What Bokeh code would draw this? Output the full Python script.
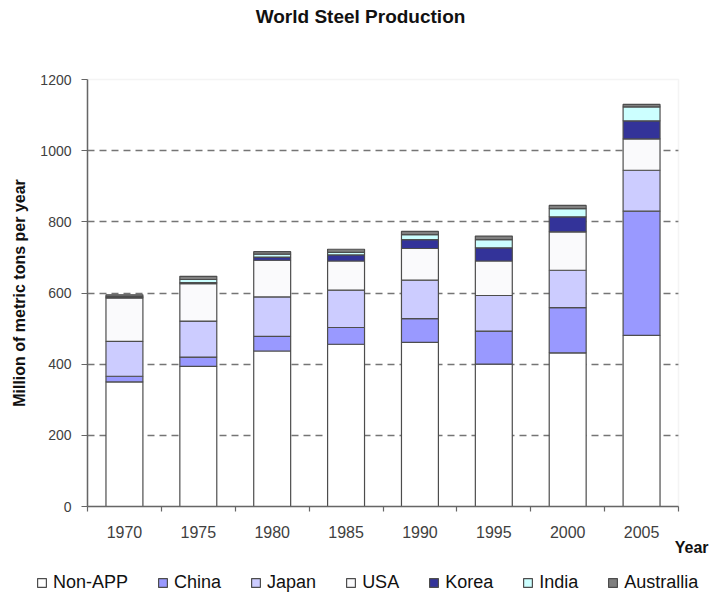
from bokeh.plotting import figure
from bokeh.models import (FixedTicker, Legend, LegendItem, Label, Range1d,
                          ColumnDataSource, BoxAnnotation)
from bokeh.embed import file_html
from bokeh.resources import INLINE

# ---- data (million metric tons per year) ----
years = [1970, 1975, 1980, 1985, 1990, 1995, 2000, 2005]
non_app = [350, 394, 437, 456, 461, 400, 432, 481]
china = [16, 26, 41, 47, 67, 93, 127, 349]
japan = [98, 101, 111, 105, 108, 100, 105, 115]
usa = [122, 105, 103, 82, 89, 97, 108, 88]
korea = [1, 3, 9, 17, 25, 37, 42, 51]
india = [3, 9, 8, 7, 14, 23, 23, 39]
australia = [5, 9, 7, 9, 9, 10, 9, 7]

series_names = ["Non-APP", "China", "Japan", "USA", "Korea", "India", "Australlia"]
series_values = [non_app, china, japan, usa, korea, india, australia]
colors = ["#FFFFFF", "#9999FF", "#CCCCFF", "#FAFAFC", "#333399", "#CCFFFF", "#808080"]
y_ticks = [0, 200, 400, 600, 800, 1000, 1200]

# ---- layout (pixels) ----
FONT = "Liberation Sans"
OUTLINE = "#4d4d4d"
AXIS = "#666666"
W, H = 709, 593
PX_LEFT, PX_RIGHT, PX_TOP, PX_BOTTOM = 87, 678, 79, 506
half = 2.5  # half of the 5-year category width

# plot-area extent in data units, then extend the ranges so the frame fills the canvas
x0, x1 = years[0] - half, years[-1] + half
y0, y1 = y_ticks[0], y_ticks[-1]
xs = (x1 - x0) / (PX_RIGHT - PX_LEFT)
ys = (y1 - y0) / (PX_BOTTOM - PX_TOP)
x_range = Range1d(x0 - PX_LEFT * xs, x1 + (W - PX_RIGHT) * xs)
y_range = Range1d(y0 - (H - PX_BOTTOM) * ys, y1 + PX_TOP * ys)

data = {"year": years}
for name, vals in zip(series_names, series_values):
    data[name] = vals
src = ColumnDataSource(data)

p = figure(width=W, height=H, x_range=x_range, y_range=y_range,
           output_backend="svg", toolbar_location=None, min_border=0)
p.background_fill_color = "white"
p.border_fill_color = "white"
p.outline_line_color = None

# light plot-area border (top / right), under everything
p.add_layout(BoxAnnotation(left=x0, right=x1, bottom=y0, top=y1, fill_alpha=0,
                           line_color="#d9d9d9", line_width=1.5, level="underlay"))

renderers = p.vbar_stack(series_names, x="year", width=half, source=src,
                         fill_color=colors, line_color=OUTLINE, line_width=1.2)

# ---- x axis: labels at category centres, ticks at category boundaries ----
bounds = [y - half for y in years] + [years[-1] + half]
p.xaxis.fixed_location = y0
p.xaxis.bounds = (x0, x1)
p.xaxis.ticker = FixedTicker(ticks=years, minor_ticks=bounds)
p.xaxis.major_tick_out = 0
p.xaxis.major_tick_in = 0
p.xaxis.minor_tick_out = 5
p.xaxis.minor_tick_in = 0
p.xaxis.axis_line_color = AXIS
p.xaxis.axis_line_width = 1.5
p.xaxis.minor_tick_line_color = AXIS
p.xaxis.minor_tick_line_width = 1.2
p.xaxis.major_label_text_font = FONT
p.xaxis.major_label_text_font_size = "16px"
p.xaxis.major_label_text_color = "#404040"
p.xaxis.major_label_standoff = 14

# ---- y axis ----
p.yaxis.fixed_location = x0
p.yaxis.bounds = (y0, y1)
p.yaxis.ticker = FixedTicker(ticks=y_ticks, minor_ticks=[])
p.yaxis.major_tick_out = 6
p.yaxis.major_tick_in = 0
p.yaxis.minor_tick_out = 0
p.yaxis.minor_tick_in = 0
p.yaxis.axis_line_color = AXIS
p.yaxis.axis_line_width = 1.5
p.yaxis.major_tick_line_color = AXIS
p.yaxis.major_tick_line_width = 1.2
p.yaxis.major_label_text_font = FONT
p.yaxis.major_label_text_font_size = "14px"
p.yaxis.major_label_text_color = "#404040"
p.yaxis.major_label_standoff = 10
p.yaxis.axis_label = "Million of metric tons per year"
p.yaxis.axis_label_text_font = FONT
p.yaxis.axis_label_text_font_size = "16px"
p.yaxis.axis_label_text_font_style = "bold"
p.yaxis.axis_label_text_color = "#111111"
p.yaxis.axis_label_standoff = 9

# ---- dashed horizontal gridlines ----
p.xgrid.visible = False
grid = p.ygrid[0]
grid.ticker = FixedTicker(ticks=y_ticks[1:-1])
grid.grid_line_color = "#757575"
grid.grid_line_width = 1.5
grid.grid_line_dash = "7 5"
if "cross_bounds" in grid.properties():
    grid.cross_bounds = (x0, x1)
else:
    grid.visible = False
    p.segment(x0=[x0] * (len(y_ticks) - 2), x1=[x1] * (len(y_ticks) - 2),
              y0=y_ticks[1:-1], y1=y_ticks[1:-1], line_color="#757575",
              line_width=1.5, line_dash="7 5", level="underlay")

# ---- texts ----
p.add_layout(Label(x=360, y=H - 16, x_units="screen", y_units="screen",
                   text="World Steel Production", text_align="center",
                   text_baseline="middle", text_font=FONT, text_font_size="19px",
                   text_font_style="bold", text_color="#111111"))
p.add_layout(Label(x=708, y=H - 547, x_units="screen", y_units="screen",
                   text="Year", text_align="right", text_baseline="middle",
                   text_font=FONT, text_font_size="16px", text_font_style="bold",
                   text_color="#111111"))

# ---- legend ----
items = [LegendItem(label=n, renderers=[r]) for n, r in zip(series_names, renderers)]
legend = Legend(items=items, orientation="horizontal", location=(36, 0),
                glyph_width=11, glyph_height=11, label_standoff=6, spacing=29,
                padding=0, margin=0, border_line_color=None,
                background_fill_alpha=0,
                label_text_font=FONT, label_text_font_size="18px",
                label_text_color="#111111", label_height=18)
p.add_layout(legend, "center")

open("out.html", "w").write(file_html(p, INLINE))
